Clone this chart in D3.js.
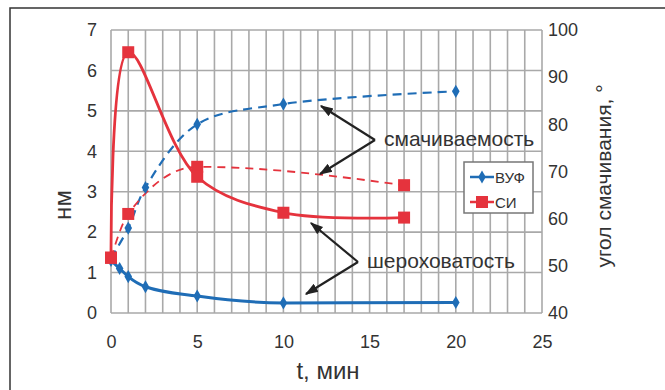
<!DOCTYPE html>
<html>
<head>
<meta charset="utf-8">
<script src="https://cdn.jsdelivr.net/npm/d3@7"></script>
<style>
  html, body { margin: 0; padding: 0; background: #fff; }
  svg { display: block; }
  text { font-family: "Liberation Sans", Arial, Helvetica, sans-serif; fill: #333; }
</style>
</head>
<body>
<svg id="chart" width="665" height="390"></svg>
<script>
// Time axis (minutes)
const xTicks = [0, 5, 10, 15, 20, 25];
const leftTicks = [0, 1, 2, 3, 4, 5, 6, 7];
const rightTicks = [40, 50, 60, 70, 80, 90, 100];

// ВУФ: roughness (nm) and contact angle (deg)
const vufRoughT = [0, 0.5, 1, 2, 5, 10, 20];
const vufRough = [1.3, 1.1, 0.9, 0.65, 0.42, 0.25, 0.26];
const vufAngleT = [0, 1, 2, 5, 10, 20];
const vufAngle = [51.6, 58, 66.6, 80, 84.3, 87];

// СИ: roughness (nm) and contact angle (deg)
const siRoughT = [0, 1, 5, 10, 17];
const siRough = [1.37, 6.45, 3.37, 2.48, 2.36];
const siAngleT = [0, 1, 5, 17];
const siAngle = [51.7, 61, 71, 67.1];

const seriesNames = ["ВУФ", "СИ"];
const notes = ["смачиваемость", "шероховатость"];

const blue = "#1f6db6";
const red = "#e5333d";
const gridColor = "#a9a9a9";

const svg = d3.select("#chart");

// outer frame
svg.append("path").attr("d", "M10,390 V8 H665")
  .attr("fill", "none").attr("stroke", "#333").attr("stroke-width", 1.5);

const x = d3.scaleLinear().domain([0, 25]).range([111, 542]);
const yL = d3.scaleLinear().domain([0, 7]).range([313, 30]);
const yR = d3.scaleLinear().domain([40, 100]).range([313, 30]);

// gridlines: one per minute and one per nanometre
const gridG = svg.append("g").attr("class", "grid");
gridG.selectAll("line.gv").data(d3.range(0, 26)).enter().append("line")
  .attr("class", "gv")
  .attr("x1", d => x(d)).attr("x2", d => x(d))
  .attr("y1", yL(0)).attr("y2", yL(7))
  .style("stroke", gridColor).style("stroke-width", "1.6px");
gridG.selectAll("line.gh").data(leftTicks).enter().append("line")
  .attr("class", "gh")
  .attr("x1", x(0)).attr("x2", x(25))
  .attr("y1", d => yL(d)).attr("y2", d => yL(d))
  .style("stroke", gridColor).style("stroke-width", "1.6px");

// axes
const axB = d3.axisBottom(x).tickValues(xTicks).tickSize(0).tickPadding(22).tickFormat(d3.format("d"));
const axL = d3.axisLeft(yL).tickValues(leftTicks).tickSize(0).tickPadding(14).tickFormat(d3.format("d"));
const axR = d3.axisRight(yR).tickValues(rightTicks).tickSize(0).tickPadding(6).tickFormat(d3.format("d"));
function style(sel) {
  sel.select(".domain").remove();
  sel.selectAll(".tick line").remove();
  sel.selectAll("text").attr("font-size", 18).attr("fill", "#333")
    .attr("font-family", "\"Liberation Sans\", Arial, sans-serif");
}
svg.append("g").attr("transform", `translate(0,${yL(0)})`).call(axB).call(style);
svg.append("g").attr("transform", `translate(${x(0)},0)`).call(axL).call(style);
svg.append("g").attr("transform", `translate(${x(25)},0)`).call(axR).call(style);

// axis titles
svg.append("text").attr("x", 328).attr("y", 379).attr("text-anchor", "middle")
  .attr("font-size", 24).text("t, мин");
svg.append("text").attr("transform", "translate(71,205) rotate(-90)")
  .attr("text-anchor", "middle").attr("font-size", 24).text("нм");
svg.append("text").attr("transform", "translate(611,176) rotate(-90)")
  .attr("text-anchor", "middle").attr("font-size", 21).text("угол смачивания, °");

// series
const smooth = d3.curveCatmullRom.alpha(0.5);
const lineL = d3.line().x(d => x(d[0])).y(d => yL(d[1])).curve(smooth);
const lineLflat = d3.line().x(d => x(d[0])).y(d => yL(d[1])).curve(d3.curveMonotoneX);
const lineR = d3.line().x(d => x(d[0])).y(d => yR(d[1])).curve(smooth);
const lineRflat = d3.line().x(d => x(d[0])).y(d => yR(d[1])).curve(d3.curveMonotoneX);
const zip = (a, b) => a.map((v, i) => [v, b[i]]);

const vufRoughPts = zip(vufRoughT, vufRough);
const vufAnglePts = zip(vufAngleT, vufAngle);
const siRoughPts = zip(siRoughT, siRough);
const siAnglePts = zip(siAngleT, siAngle);

svg.append("path").attr("d", lineR(vufAnglePts)).attr("fill", "none")
  .attr("stroke", blue).attr("stroke-width", 2.2).attr("stroke-dasharray", "9,6");
svg.append("path").attr("d", lineRflat(siAnglePts)).attr("fill", "none")
  .attr("stroke", red).attr("stroke-width", 1.8).attr("stroke-dasharray", "8,6");
svg.append("path").attr("d", lineLflat(vufRoughPts)).attr("fill", "none")
  .attr("stroke", blue).attr("stroke-width", 3);
svg.append("path").attr("d", lineL(siRoughPts)).attr("fill", "none")
  .attr("stroke", red).attr("stroke-width", 2.8);

const diamond = d3.symbol().type(d3.symbolDiamond).size(50);
function diamonds(pts, yScale) {
  svg.append("g").selectAll("path").data(pts).join("path")
    .attr("d", diamond)
    .attr("transform", d => `translate(${x(d[0])},${yScale(d[1])})`)
    .attr("fill", blue);
}
function squares(pts, yScale) {
  svg.append("g").selectAll("rect").data(pts).join("rect")
    .attr("x", d => x(d[0]) - 6).attr("y", d => yScale(d[1]) - 6)
    .attr("width", 12).attr("height", 12).attr("fill", red);
}
diamonds(vufAnglePts, yR);
diamonds(vufRoughPts, yL);
squares(siAnglePts, yR);
squares(siRoughPts, yL);

// annotation brackets with arrowheads
svg.append("defs").append("marker").attr("id", "ah")
  .attr("viewBox", "0 0 10 10").attr("refX", 9).attr("refY", 5)
  .attr("markerWidth", 6).attr("markerHeight", 6).attr("orient", "auto")
  .append("path").attr("d", "M0,1.5 L10,5 L0,8.5 Z").attr("fill", "#222");

function bracket(vx, vy, t1, t2) {
  [t1, t2].forEach(t => {
    svg.append("line").attr("x1", vx).attr("y1", vy).attr("x2", t[0]).attr("y2", t[1])
      .attr("stroke", "#222").attr("stroke-width", 2.2).attr("marker-end", "url(#ah)");
  });
}
bracket(375, 140, [321, 106], [320, 174]);
bracket(358, 262, [311, 223], [306, 294]);

svg.append("text").attr("x", 384).attr("y", 146).attr("font-size", 21).text(notes[0]);
svg.append("text").attr("x", 367).attr("y", 268).attr("font-size", 21).text(notes[1]);

// legend
const lg = svg.append("g");
lg.append("rect").attr("x", 464).attr("y", 162).attr("width", 69).attr("height", 51)
  .attr("fill", "#fff").attr("stroke", "#777").attr("stroke-width", 1.5);
const rows = [
  { name: seriesNames[0], color: blue, y: 177, sym: "d" },
  { name: seriesNames[1], color: red, y: 202, sym: "s" }
];
rows.forEach(r => {
  lg.append("line").attr("x1", 470).attr("x2", 494).attr("y1", r.y).attr("y2", r.y)
    .attr("stroke", r.color).attr("stroke-width", 2.5);
  if (r.sym === "d") {
    lg.append("path").attr("d", diamond).attr("transform", `translate(482,${r.y})`).attr("fill", r.color);
  } else {
    lg.append("rect").attr("x", 476).attr("y", r.y - 6).attr("width", 12).attr("height", 12).attr("fill", r.color);
  }
  lg.append("text").attr("x", 495).attr("y", r.y + 5.5).attr("font-size", 15).text(r.name);
});
</script>
</body>
</html>
